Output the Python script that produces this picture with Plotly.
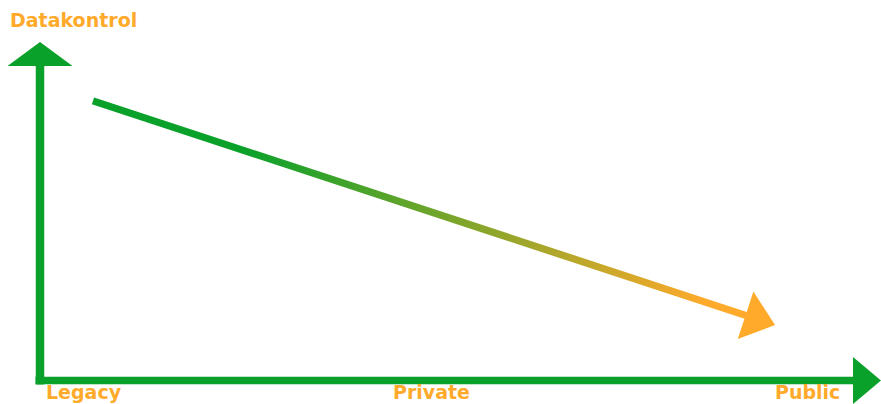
import math
import plotly.graph_objects as go

# ---- data (normalised concept space: x 0..1 = Legacy..Public, y 0..1 = Datakontrol) ----
axis_title = "Datakontrol"
tick_labels = ["Legacy", "Private", "Public"]
tick_x = [0.006, 0.465, 0.953]
trend_x = [0.063, 0.874]
trend_y = [0.826, 0.164]

GREEN = "#0AA12B"
ORANGE = "#FFAA2B"
W, H = 881, 404
X_RANGE = [-40 / 841, 1.0]
Y_RANGE = [-23.5 / 338.5, 380.5 / 338.5]


def to_px(x, y):
    px = (x - X_RANGE[0]) / (X_RANGE[1] - X_RANGE[0]) * W
    py = (Y_RANGE[1] - y) / (Y_RANGE[1] - Y_RANGE[0]) * H
    return px, py


def from_px(px, py):
    x = X_RANGE[0] + px / W * (X_RANGE[1] - X_RANGE[0])
    y = Y_RANGE[1] - py / H * (Y_RANGE[1] - Y_RANGE[0])
    return x, y


# gradient arrow polygon built in pixel space from the trend endpoints
sx, sy = to_px(trend_x[0], trend_y[0])
tx, ty = to_px(trend_x[1], trend_y[1])
dx, dy = tx - sx, ty - sy
ln = math.hypot(dx, dy)
ux, uy = dx / ln, dy / ln
nx, ny = -uy, ux
head_len, head_half, shaft_half = 31, 25, 3.6
bx, by = tx - head_len * ux, ty - head_len * uy
pts_px = [
    (sx + shaft_half * nx, sy + shaft_half * ny),
    (bx + shaft_half * nx, by + shaft_half * ny),
    (bx + head_half * nx, by + head_half * ny),
    (tx, ty),
    (bx - head_half * nx, by - head_half * ny),
    (bx - shaft_half * nx, by - shaft_half * ny),
    (sx - shaft_half * nx, sy - shaft_half * ny),
    (sx + shaft_half * nx, sy + shaft_half * ny),
]
pts = [from_px(p[0], p[1]) for p in pts_px]

fig = go.Figure()
fig.add_trace(go.Scatter(
    x=[p[0] for p in pts], y=[p[1] for p in pts],
    mode="lines", line=dict(width=0, color="rgba(0,0,0,0)"),
    fill="toself",
    fillgradient=dict(type="horizontal",
                      colorscale=[[0, GREEN], [0.22, GREEN], [0.9, ORANGE], [1, ORANGE]]),
    hoverinfo="skip", showlegend=False,
))

# axis arrows
px_x = (X_RANGE[1] - X_RANGE[0]) / W
px_y = (Y_RANGE[1] - Y_RANGE[0]) / H
shapes = []
v_base = (380.5 - 66) / 338.5
h_base = (853 - 40) / 841
shapes.append(dict(type="line", x0=0, x1=0, y0=-4 * px_y, y1=v_base + px_y,
                   line=dict(color=GREEN, width=8.5), xref="x", yref="y"))
shapes.append(dict(type="line", x0=-4.5 * px_x, x1=h_base + px_x, y0=0, y1=0,
                   line=dict(color=GREEN, width=7.5), xref="x", yref="y"))
vh = 32.5 * px_x
shapes.append(dict(type="path",
                   path=f"M {-vh} {v_base} L {vh} {v_base} L 0 1 Z",
                   fillcolor=GREEN, line=dict(width=0), xref="x", yref="y"))
hh = 23.5 * px_y
shapes.append(dict(type="path",
                   path=f"M {h_base} {-hh} L {h_base} {hh} L 1 0 Z",
                   fillcolor=GREEN, line=dict(width=0), xref="x", yref="y"))

FONT = dict(family="DejaVu Sans", size=19, color=ORANGE, weight="bold")
annotations = [dict(x=-32 * px_x, y=(380.5 - 20) / 338.5, text=f"<b>{axis_title}</b>",
                    xanchor="left", yanchor="middle", showarrow=False, font=FONT)]
anchors = ["left", "center", "right"]
for lbl, xv, anc in zip(tick_labels, tick_x, anchors):
    annotations.append(dict(x=xv, y=Y_RANGE[0], text=f"<b>{lbl}</b>",
                            xanchor=anc, yanchor="bottom", showarrow=False, font=FONT,
                            borderpad=0))

fig.update_layout(
    width=W, height=H, margin=dict(l=0, r=0, t=0, b=0),
    paper_bgcolor="white", plot_bgcolor="white",
    xaxis=dict(range=X_RANGE, visible=False, fixedrange=True),
    yaxis=dict(range=Y_RANGE, visible=False, fixedrange=True),
    shapes=shapes, annotations=annotations, showlegend=False,
)
fig.write_html("out.html")
